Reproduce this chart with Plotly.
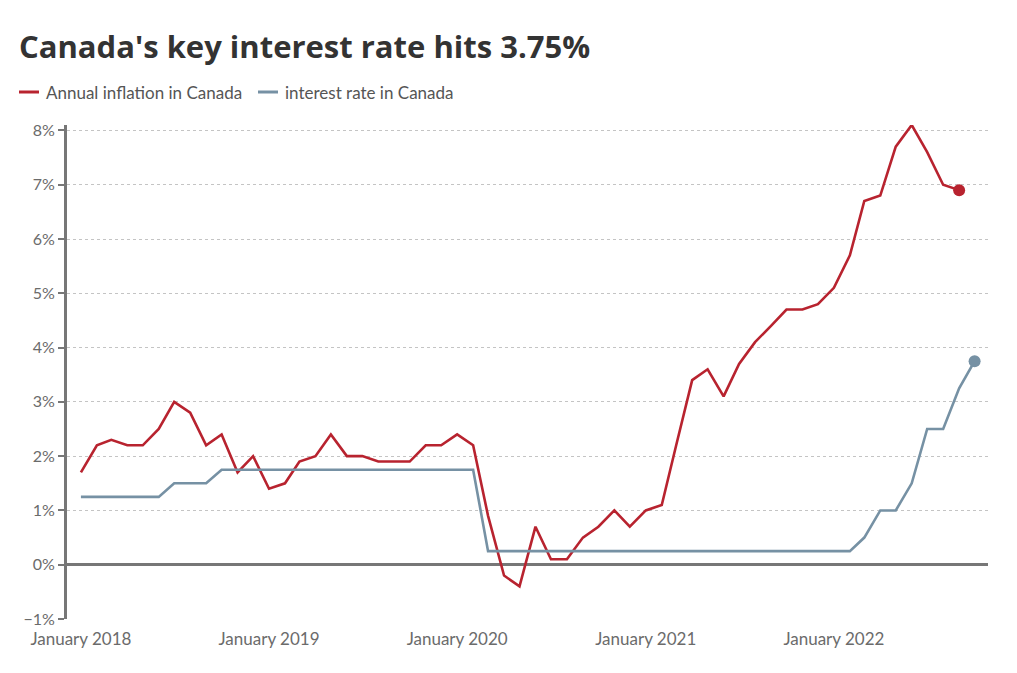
import pandas as pd
import plotly.graph_objects as go

# ---- data ----
inflation_dates = pd.date_range("2018-01-01", "2022-09-01", freq="MS")
inflation = [
    1.7, 2.2, 2.3, 2.2, 2.2, 2.5, 3.0, 2.8, 2.2, 2.4, 1.7, 2.0,
    1.4, 1.5, 1.9, 2.0, 2.4, 2.0, 2.0, 1.9, 1.9, 1.9, 2.2, 2.2,
    2.4, 2.2, 0.9, -0.2, -0.4, 0.7, 0.1, 0.1, 0.5, 0.7, 1.0, 0.7,
    1.0, 1.1, 2.2, 3.4, 3.6, 3.1, 3.7, 4.1, 4.4, 4.7, 4.7, 4.8,
    5.1, 5.7, 6.7, 6.8, 7.7, 8.1, 7.6, 7.0, 6.9,
]
rate_dates = pd.date_range("2018-01-01", "2022-10-01", freq="MS")
rate = [
    1.25, 1.25, 1.25, 1.25, 1.25, 1.25, 1.5, 1.5, 1.5, 1.75, 1.75, 1.75,
    1.75, 1.75, 1.75, 1.75, 1.75, 1.75, 1.75, 1.75, 1.75, 1.75, 1.75, 1.75,
    1.75, 1.75, 0.25, 0.25, 0.25, 0.25, 0.25, 0.25, 0.25, 0.25, 0.25, 0.25,
    0.25, 0.25, 0.25, 0.25, 0.25, 0.25, 0.25, 0.25, 0.25, 0.25, 0.25, 0.25,
    0.25, 0.25, 0.5, 1.0, 1.0, 1.5, 2.5, 2.5, 3.25, 3.75,
]
x_tick_vals = ["2018-01-01", "2019-01-01", "2020-01-01", "2021-01-01", "2022-01-01"]
x_tick_text = ["January 2018", "January 2019", "January 2020", "January 2021", "January 2022"]
series_names = ["Annual inflation in Canada", "interest rate in Canada"]
title_text = "Canada's key interest rate hits 3.75%"

RED = "#b8232f"
BLUE = "#7691a4"
FONT = "Lato, 'Open Sans', sans-serif"
TITLE_FONT = "'Open Sans', Lato, sans-serif"

# page offset (body margin) compensation
OFF = 8
W, H = 1017, 673
L, R, T, B = 67 - OFF, W - (988 - OFF), 125 - OFF, H - (619 - OFF)
PW, PH = W - L - R, H - T - B

def px_to_paper_x(sx):
    return (sx - OFF - L) / PW

def py_to_paper_y(sy):
    return (H - B - (sy - OFF)) / PH

fig = go.Figure()
fig.add_trace(go.Scatter(x=inflation_dates, y=inflation, mode="lines",
                         line=dict(color=RED, width=2.6), name=series_names[0],
                         showlegend=False))
fig.add_trace(go.Scatter(x=rate_dates, y=rate, mode="lines",
                         line=dict(color=BLUE, width=2.6), name=series_names[1],
                         showlegend=False))
fig.add_trace(go.Scatter(x=[inflation_dates[-1]], y=[inflation[-1]], mode="markers",
                         marker=dict(color=RED, size=12), showlegend=False, hoverinfo="skip"))
fig.add_trace(go.Scatter(x=[rate_dates[-1]], y=[rate[-1]], mode="markers",
                         marker=dict(color=BLUE, size=12), showlegend=False, hoverinfo="skip"))

# manual legend
legend_items = [(series_names[0], RED, 19), (series_names[1], BLUE, 258)]
for name, color, sx in legend_items:
    ly = py_to_paper_y(92)
    fig.add_shape(type="line", xref="paper", yref="paper",
                  x0=px_to_paper_x(sx), x1=px_to_paper_x(sx + 20),
                  y0=ly, y1=ly, line=dict(color=color, width=3))
    fig.add_annotation(text=name, xref="paper", yref="paper",
                       x=px_to_paper_x(sx + 25), y=ly,
                       xanchor="left", yanchor="middle", showarrow=False,
                       font=dict(family=FONT, size=17, color="#555555"))

fig.update_layout(
    width=W, height=H,
    paper_bgcolor="white", plot_bgcolor="white",
    margin=dict(l=L, r=R, t=T, b=B),
    title=dict(text=title_text, x=(19 - OFF) / W, xanchor="left", xref="container",
               y=1 - (47 - OFF) / H, yanchor="middle", yref="container",
               font=dict(family=TITLE_FONT, size=31, color="#333333", weight="bold")),
    font=dict(family=FONT),
    hovermode=False,
)
fig.update_xaxes(
    type="date",
    range=["2017-12-05", "2022-10-27"],
    tickvals=x_tick_vals, ticktext=x_tick_text,
    showgrid=False, showline=False, zeroline=False, ticks="",
    tickfont=dict(family=FONT, size=17, color="#6b6b6b"),
    automargin=False, ticklabelstandoff=8,
)
fig.update_yaxes(
    range=[-1, 8.1], dtick=1, tick0=0, ticksuffix="%",
    showgrid=True, gridcolor="#c4c4c4", gridwidth=1, griddash="dot",
    showline=True, linecolor="#777777", linewidth=3,
    zeroline=True, zerolinecolor="#777777", zerolinewidth=3,
    ticks="outside", ticklen=6, tickwidth=2, tickcolor="#777777",
    tickfont=dict(family=FONT, size=16, color="#6b6b6b"),
    automargin=False,
)

fig.write_html("out.html")
